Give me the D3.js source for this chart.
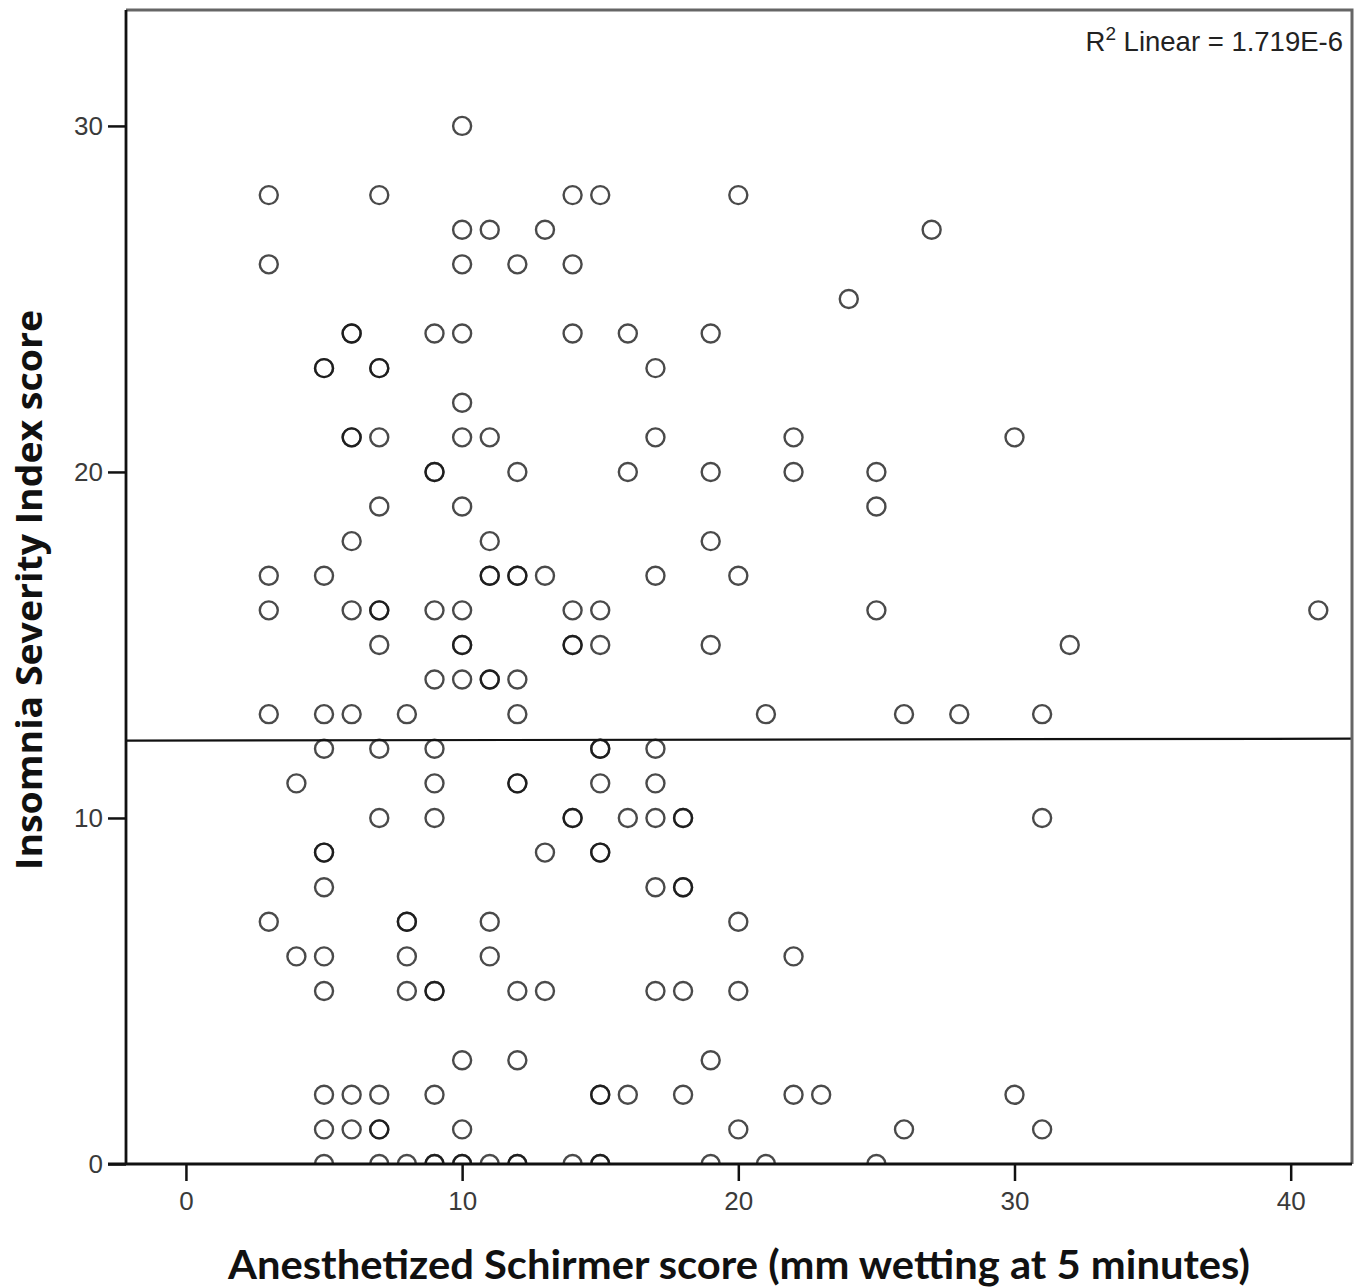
<!DOCTYPE html>
<html>
<head>
<meta charset="utf-8">
<script src="https://cdn.jsdelivr.net/npm/d3@7"></script>
<style>
  html, body { margin: 0; padding: 0; background: #ffffff; }
  svg { display: block; }
</style>
</head>
<body>
<svg id="chart" width="1361" height="1288"></svg>
<script>
// ---- Data ----
// Anesthetized Schirmer score (x) and Insomnia Severity Index score (y), paired.
const schirmer = [
  10,
  3, 7, 14, 15, 20,
  10, 11, 13, 27,
  3, 10, 12, 14,
  24,
  6, 6, 9, 10, 14, 16, 19,
  5, 5, 7, 7, 17,
  10,
  6, 6, 7, 10, 11, 17, 22, 30,
  9, 9, 12, 16, 19, 22, 25,
  7, 10, 25,
  6, 11, 19,
  3, 5, 11, 11, 12, 12, 13, 17, 20,
  3, 6, 7, 7, 9, 10, 14, 15, 25, 41,
  7, 10, 10, 14, 14, 15, 19, 32,
  9, 10, 11, 11, 12,
  3, 5, 6, 8, 12, 21, 26, 28, 31,
  5, 7, 9, 15, 15, 17,
  4, 9, 12, 12, 15, 17,
  7, 9, 14, 14, 16, 17, 18, 18, 31,
  5, 5, 13, 15, 15,
  5, 17, 18, 18,
  3, 8, 8, 11, 20,
  4, 5, 8, 11, 22,
  5, 8, 9, 9, 12, 13, 17, 18, 20,
  10, 12, 19,
  5, 6, 7, 9, 15, 15, 16, 18, 22, 23, 30,
  5, 6, 7, 7, 10, 20, 26, 31,
  5, 7, 8, 9, 9, 10, 10, 11, 12, 12, 14, 15, 15, 19, 21, 25
];
const isi = [
  30,
  28, 28, 28, 28, 28,
  27, 27, 27, 27,
  26, 26, 26, 26,
  25,
  24, 24, 24, 24, 24, 24, 24,
  23, 23, 23, 23, 23,
  22,
  21, 21, 21, 21, 21, 21, 21, 21,
  20, 20, 20, 20, 20, 20, 20,
  19, 19, 19,
  18, 18, 18,
  17, 17, 17, 17, 17, 17, 17, 17, 17,
  16, 16, 16, 16, 16, 16, 16, 16, 16, 16,
  15, 15, 15, 15, 15, 15, 15, 15,
  14, 14, 14, 14, 14,
  13, 13, 13, 13, 13, 13, 13, 13, 13,
  12, 12, 12, 12, 12, 12,
  11, 11, 11, 11, 11, 11,
  10, 10, 10, 10, 10, 10, 10, 10, 10,
  9, 9, 9, 9, 9,
  8, 8, 8, 8,
  7, 7, 7, 7, 7,
  6, 6, 6, 6, 6,
  5, 5, 5, 5, 5, 5, 5, 5, 5,
  3, 3, 3,
  2, 2, 2, 2, 2, 2, 2, 2, 2, 2, 2,
  1, 1, 1, 1, 1, 1, 1, 1,
  0, 0, 0, 0, 0, 0, 0, 0, 0, 0, 0, 0, 0, 0, 0, 0
];
const xTicks = [0, 10, 20, 30, 40];
const yTicks = [0, 10, 20, 30];
const xDomain = [-2.17, 42.22];
const yDomain = [0, 33.35];
// Linear fit (nearly flat line)
const fitIntercept = 12.24;
const fitSlope = 0.0012;
const r2Text = "1.719E-6";
const xTitle = "Anesthetized Schirmer score (mm wetting at 5 minutes)";
const yTitle = "Insomnia Severity Index score";

// ---- Layout ----
const pLeft = 126, pRight = 1352, pTop = 10, pBottom = 1164;

const svg = d3.select("#chart");
const x = d3.scaleLinear().domain(xDomain).range([pLeft, pRight]);
const y = d3.scaleLinear().domain(yDomain).range([pBottom, pTop]);

svg.append("rect").attr("width", 1361).attr("height", 1288).attr("fill", "#fff");

svg.append("clipPath").attr("id", "plotClip")
  .append("rect")
  .attr("x", pLeft).attr("y", pTop)
  .attr("width", pRight - pLeft).attr("height", pBottom - pTop);

// Points
const pts = d3.range(schirmer.length).map(i => ({ x: schirmer[i], y: isi[i] }));
svg.append("g").attr("clip-path", "url(#plotClip)")
  .selectAll("circle").data(pts).join("circle")
  .attr("cx", d => x(d.x))
  .attr("cy", d => y(d.y))
  .attr("r", 9)
  .attr("fill", "none")
  .attr("stroke", "#111")
  .attr("stroke-opacity", 0.76)
  .attr("stroke-width", 2.4);

// Fit line
const fitData = xDomain.map(v => ({ x: v, y: fitIntercept + fitSlope * v }));
svg.append("path")
  .datum(fitData)
  .attr("d", d3.line().x(d => x(d.x)).y(d => y(d.y)))
  .attr("fill", "none")
  .attr("stroke", "#111")
  .attr("stroke-width", 2.2);

// Frame: top and right (grey)
svg.append("path")
  .attr("d", d3.line()([[pLeft, pTop], [pRight, pTop], [pRight, pBottom]]))
  .attr("fill", "none").attr("stroke", "#666").attr("stroke-width", 3);

// Axes
const xAxis = svg.append("g")
  .attr("transform", `translate(0,${pBottom})`)
  .call(d3.axisBottom(x).tickValues(xTicks).tickSize(17).tickPadding(11).tickSizeOuter(0));
const yAxis = svg.append("g")
  .attr("transform", `translate(${pLeft},0)`)
  .call(d3.axisLeft(y).tickValues(yTicks).tickSize(18).tickPadding(5).tickSizeOuter(0));

[xAxis, yAxis].forEach(g => {
  g.select(".domain").remove();
  g.selectAll(".tick line").attr("stroke", "#111").attr("stroke-width", 2.5);
  g.selectAll(".tick text")
    .attr("fill", "#3a3a3a")
    .style("font-family", "'Liberation Sans', Arial, sans-serif")
    .style("font-size", "26px");
});

// Left and bottom axis lines (black)
svg.append("line").attr("x1", pLeft).attr("x2", pLeft).attr("y1", pTop).attr("y2", pBottom)
  .attr("stroke", "#111").attr("stroke-width", 2.8);
svg.append("line").attr("x1", pLeft - 18).attr("x2", pRight).attr("y1", pBottom).attr("y2", pBottom)
  .attr("stroke", "#111").attr("stroke-width", 2.8);

// R² annotation
const r2 = svg.append("text")
  .attr("x", 1343).attr("y", 51)
  .attr("text-anchor", "end")
  .attr("fill", "#222")
  .style("font-family", "'Liberation Sans', Arial, sans-serif")
  .style("font-size", "27.5px");
r2.append("tspan").text("R");
r2.append("tspan").attr("dy", -11).style("font-size", "19px").text("2");
r2.append("tspan").attr("dy", 11).text(" Linear = " + r2Text);

// Axis titles
svg.append("text")
  .attr("x", 739).attr("y", 1279)
  .attr("text-anchor", "middle")
  .attr("fill", "#111")
  .attr("textLength", 1022)
  .attr("lengthAdjust", "spacingAndGlyphs")
  .style("font-family", "Lato, 'Open Sans', sans-serif")
  .style("font-weight", "bold")
  .style("font-size", "40px")
  .text(xTitle);

svg.append("text")
  .attr("transform", "translate(42,590) rotate(-90)")
  .attr("text-anchor", "middle")
  .attr("fill", "#111")
  .attr("textLength", 560)
  .attr("lengthAdjust", "spacingAndGlyphs")
  .style("font-family", "'Open Sans', sans-serif")
  .style("font-weight", "bold")
  .style("font-size", "36px")
  .text(yTitle);
</script>
</body>
</html>
